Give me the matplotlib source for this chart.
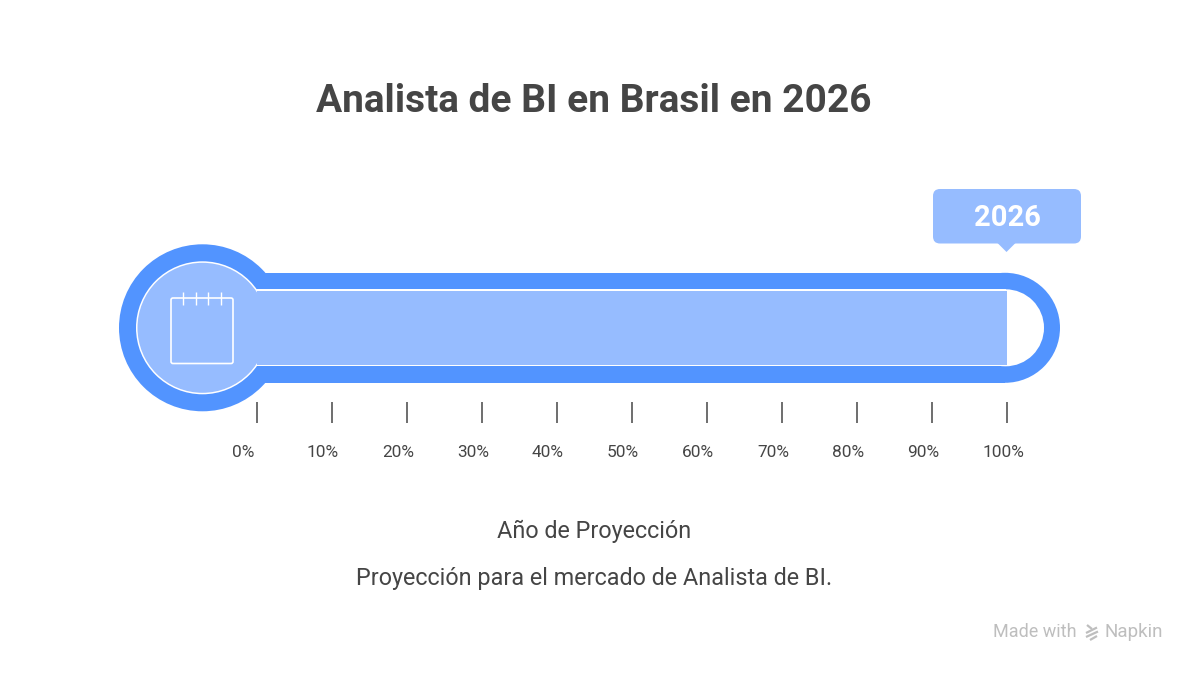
import matplotlib
matplotlib.use("Agg")
import matplotlib.pyplot as plt
from matplotlib.patches import Circle, FancyBboxPatch, Polygon, Rectangle
from matplotlib.transforms import offset_copy

plt.rcParams['font.family'] = ['Roboto', 'DejaVu Sans']

title = "Analista de BI en Brasil en 2026"
year_label = "2026"
progress_pct = [100]
tick_values = [0, 10, 20, 30, 40, 50, 60, 70, 80, 90, 100]
tick_labels = ["0%", "10%", "20%", "30%", "40%", "50%", "60%", "70%", "80%", "90%", "100%"]
caption_1 = "Año de Proyección"
caption_2 = "Proyección para el mercado de Analista de BI."
footer_1 = "Made with"
footer_2 = "Napkin"

BLUE = "#5294FF"
LIGHT = "#96BCFF"
TEXT = "#454545"
TICK = "#555555"
GREY = "#BEBEBE"

W, H = 1200, 675
fig = plt.figure(figsize=(W / 100, H / 100), dpi=100, facecolor="white")

bg = fig.add_axes([0, 0, 1, 1], zorder=1)
bg.set_xlim(0, W)
bg.set_ylim(H, 0)
bg.axis("off")

cx, cy = 202.5, 327.8


def capsule(right, half, color, z):
    """Tube from the bulb centre to a true semicircular end."""
    bg.add_patch(Rectangle((cx, cy - half), right - half - cx, 2 * half, fc=color, ec="none", zorder=z))
    bg.add_patch(Circle((right - half, cy), half, fc=color, ec="none", zorder=z))


bg.add_patch(Circle((cx, cy), 83.5, fc=BLUE, ec="none", zorder=1))
capsule(1060, 55, BLUE, 1)
capsule(1044, 38.5, "white", 2)
bg.add_patch(Circle((cx, cy), 66.5, fc="white", ec="none", zorder=2))
bg.add_patch(Circle((cx, cy), 65, fc=LIGHT, ec="none", zorder=3))

# calendar icon
bg.add_patch(FancyBboxPatch((171, 298), 62, 65.5, boxstyle="round,pad=0,rounding_size=2",
                            fc="none", ec="white", lw=1.2, zorder=6))
for x in (182.7, 195.5, 208, 220.7):
    bg.plot([x, x], [291.5, 305], color="white", lw=1.0, zorder=6, solid_capstyle="butt")

# callout
bg.add_patch(FancyBboxPatch((933, 189), 148, 54.5, boxstyle="round,pad=0,rounding_size=7",
                            fc=LIGHT, ec="none", zorder=2))
bg.add_patch(Polygon([(997.5, 243), (1015.5, 243), (1006.5, 252)], fc=LIGHT, ec="none", zorder=2))
bg.text(1007.5, 217.5, year_label, color="white", fontsize=21, fontweight="bold", ha="center", va="center", zorder=3)

# titles and captions
bg.text(594, 101, title, color=TEXT, fontsize=28, fontweight="bold", ha="center", va="center")
bg.text(594, 531, caption_1, color=TEXT, fontsize=16.8, ha="center", va="center")
bg.text(594, 579, caption_2, color=TEXT, fontsize=16.8, ha="center", va="center")

# footer
bg.text(993, 632, footer_1, color=GREY, fontsize=13, ha="left", va="center")
bg.text(1105, 632, footer_2, color=GREY, fontsize=13.5, ha="left", va="center")
for pts in ([(1087, 625), (1092, 629)], [(1086, 633), (1097, 627.5)], [(1086, 637), (1098, 631.5)], [(1090, 640), (1097, 636)]):
    bg.plot(*zip(*pts), color=GREY, lw=1.6, solid_capstyle="butt")

# data axes: the horizontal scale runs 0-100 % between the first and last tick
ax_left, ax_right, ax_top, ax_bottom = 256.5, 1006.5, 260, 402
ax = fig.add_axes([ax_left / W, 1 - ax_bottom / H, (ax_right - ax_left) / W, (ax_bottom - ax_top) / H], zorder=2)
ax.patch.set_alpha(0)
ax.set_xlim(0, 100)
ax.set_ylim(ax_bottom, ax_top)
for s in ax.spines.values():
    s.set_visible(False)
ax.barh([328], progress_pct, height=74.5, color=LIGHT, linewidth=0, zorder=2)
ax.set_yticks([])
ax.set_xticks(tick_values)
ax.set_xticklabels(tick_labels, ha="left", fontsize=12.4, color=TEXT)
ax.tick_params(axis="x", direction="out", length=15.2, width=1.2, color=TICK, pad=16)
for lab in ax.get_xticklabels():
    lab.set_transform(offset_copy(lab.get_transform(), fig=fig, x=-24.5, y=0, units="dots"))

fig.savefig("out.png", dpi=100, facecolor="white")
